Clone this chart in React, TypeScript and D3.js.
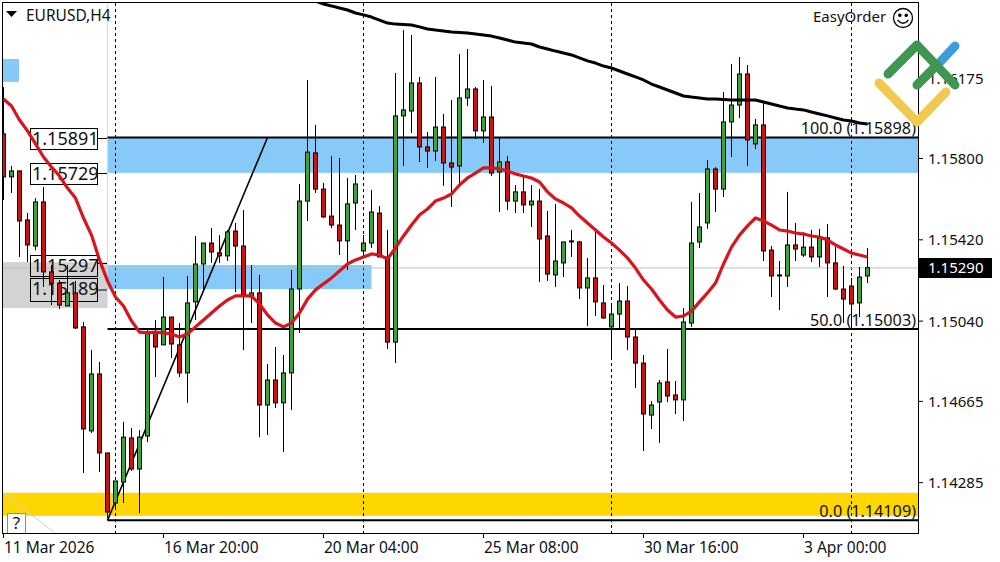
import React from "react";
import * as d3 from "d3";

// All prices in points (1e-5): 115915 = 1.15915
const opens = [115915,115714,115742,115513,115391,115597,115270,115218,115111,115172,115013,114527,114793,114424,114190,114288,114494,114349,114503,114989,114929,115059,114929,114798,115130,115307,115405,115359,115345,115461,115391,115153,115172,114648,114765,114658,114798,115190,115601,115826,115657,115531,115489,115415,115592,115368,115405,115545,115340,114942,115999,116022,116153,115854,115835,115947,115779,115765,116083,116125,115929,115994,115737,115784,115601,115644,115583,115601,115438,115256,115312,115415,115410,115195,115242,115125,115013,115073,115134,114966,114844,114601,114662,114756,114695,114672,115031,115410,115499,115751,115657,115971,116050,116195,115868,115957,115372,115256,115251,115396,115349,115386,115340,115429,115312,115190,115204,115125,115251];
const highs = [116134,115765,115742,115545,115615,115667,115302,115232,115302,115228,115036,114905,114849,114424,114293,114569,114541,114531,114999,115045,115246,115059,115031,115251,115438,115405,115475,115442,115466,115499,115559,115302,115256,114840,114919,114882,115279,115681,116167,115957,115686,115812,115803,115709,115723,115442,115653,115578,115466,116200,116400,116377,116181,115924,116181,116008,116073,116288,116312,116134,116167,116139,115900,115812,115676,115723,115676,115658,115555,115588,115410,115466,115415,115335,115466,115209,115125,115218,115204,115003,114882,114667,114765,114910,114760,115101,115597,115639,115793,115760,116111,116242,116274,116237,115985,116059,115391,115321,115644,115499,115457,115466,115471,115494,115386,115298,115242,115293,115382];
const lows = [115606,115639,115340,115316,115372,115200,115115,115097,115111,115003,114330,114517,114335,114120,114167,114190,114340,114143,114475,114779,114929,114868,114779,114658,115045,115186,115312,115312,115321,115176,114905,115031,114498,114508,114634,114428,114625,114985,115508,115639,115522,115475,115349,115279,115466,115335,115382,115340,114910,114844,115765,115919,115784,115756,115788,115672,115573,115686,116045,115891,115872,115718,115550,115559,115545,115545,115480,115223,115228,115200,115246,115340,115143,115017,115064,115050,114868,115008,114905,114727,114433,114536,114471,114662,114606,114573,115013,115382,115471,115550,115620,115807,115989,115765,115844,115321,115153,115092,115200,115321,115340,115316,115293,115153,115186,115031,115013,115059,115218];
const closes = [115714,115742,115508,115396,115597,115270,115218,115115,115172,115008,114536,114793,114424,114148,114293,114498,114349,114498,114989,114919,115059,114933,114798,115125,115307,115405,115363,115345,115457,115391,115162,115172,114648,114765,114658,114798,115190,115601,115830,115657,115527,115489,115415,115588,115681,115405,115550,115340,114942,115999,116027,116153,115854,115835,115947,115779,115760,116083,116125,115929,115994,115732,115784,115601,115644,115583,115601,115424,115260,115321,115410,115410,115195,115242,115130,115055,115073,115134,114966,114844,114606,114648,114751,114690,114672,115036,115405,115480,115751,115657,115971,116050,116195,115887,115957,115368,115251,115251,115396,115377,115386,115340,115429,115312,115190,115143,115120,115246,115290];
const redMA = [116078,116045,115980,115929,115868,115807,115760,115718,115662,115615,115522,115442,115326,115228,115153,115111,115041,114989,114985,114989,114985,114980,114966,114980,115013,115045,115078,115111,115139,115158,115158,115158,115120,115069,115031,115013,115031,115078,115143,115186,115214,115242,115274,115307,115326,115340,115354,115349,115330,115382,115438,115489,115536,115564,115601,115615,115634,115676,115709,115732,115756,115756,115751,115742,115728,115718,115709,115690,115644,115611,115592,115569,115531,115499,115466,115433,115405,115372,115335,115288,115232,115190,115139,115092,115059,115064,115087,115130,115172,115218,115307,115386,115442,115485,115522,115508,115489,115466,115461,115452,115447,115438,115433,115419,115396,115377,115358,115349,115340];
const blackMAStart = 39;
const blackMA = [116536,116522,116513,116503,116494,116480,116471,116461,116447,116433,116428,116426,116424,116415,116405,116400,116396,116391,116389,116386,116382,116377,116372,116363,116354,116344,116340,116335,116321,116312,116302,116293,116284,116270,116256,116246,116232,116223,116209,116195,116181,116167,116148,116134,116120,116106,116092,116087,116083,116078,116078,116076,116073,116073,116073,116073,116064,116055,116045,116036,116031,116027,116017,116008,115999,115989,115980,115975,115966,115961];

const priceTicks = [116175,115800,115420,115040,114665,114285];
const timeTickIdx = [0,20,40,60,80,100];
const timeTickLabels = ["11 Mar 2026","16 Mar 20:00","20 Mar 04:00","25 Mar 08:00","30 Mar 16:00","3 Apr 00:00"];
const periodSeps = [14,45,76,106];
const fibPrices = [115898,115003,114109];
const fibNames = ["100.0","50.0","0.0"];
const zoneLabels = [115891,115729,115297,115189];
const lastPrice = 115290;

const W = 1000, H = 562;
const plot = { l: 3, r: 918, t: 3, b: 533 };
const FONT = "'Noto Sans', Tahoma, sans-serif";
const x = d3.scaleLinear().domain([0, 108]).range([3.5, 867.5]);
const y = d3.scaleLinear().domain([114285, 115800]).range([482.7, 158.5]);
const fmt = (p: number) => (p / 1e5).toFixed(5);
const GREEN = "#3aa53c", RED = "#cc1418";
const INK = "#111";

const App = () => {
  const redPath = d3.line<number>().x((_, i) => x(i)).y(d => y(d)).curve(d3.curveLinear)(redMA)!;
  const blackPath = d3.line<number>().x((_, i) => x(i + blackMAStart)).y(d => y(d))(blackMA)!;
  const fibStart = x(13);
  return (
    <svg width={W} height={H} viewBox={`0 0 ${W} ${H}`} style={{ position: "absolute", left: 0, top: 0, background: "#fff" }} fontFamily={FONT}>
      <defs>
        <clipPath id="plot"><rect x={plot.l} y={plot.t} width={plot.r - plot.l} height={plot.b - plot.t} /></clipPath>
      </defs>
      <g clipPath="url(#plot)">
        {/* zones */}
        <rect x={plot.l} y={y(116265)} width={16} height={y(116158) - y(116265)} fill="#87c9f9" />
        <rect x={plot.l} y={y(115316)} width={fibStart - plot.l} height={y(115101) - y(115316)} fill="#d3d3d3" />
        <rect x={fibStart} y={y(115898)} width={plot.r - fibStart} height={y(115733) - y(115898)} fill="#87c9f9" />
        <rect x={fibStart} y={y(115302)} width={x(46) - fibStart} height={y(115190) - y(115302)} fill="#87c9f9" />
        <rect x={plot.l} y={y(114238)} width={plot.r - plot.l} height={y(114130) - y(114238)} fill="#ffd700" />
        <line x1={107.5} x2={107.5} y1={plot.t} y2={262} stroke="#dcdcdc" />
        <line x1={plot.l} y1={493} x2={55} y2={533} stroke="#d0d0d0" />
        {/* period separators */}
        {periodSeps.map(i => (
          <line key={i} x1={x(i)} x2={x(i)} y1={plot.t} y2={plot.b} stroke="#000" strokeDasharray="3 3" />
        ))}
        {/* bid line */}
        <line x1={plot.l} x2={plot.r} y1={y(lastPrice) + 0.3} y2={y(lastPrice) + 0.3} stroke="#c0c0c0" />
        {/* zone price labels */}
        {zoneLabels.map((p, i) => {
          const top = [128, 163, 255, 278][i], h = [21, 21, 21, 23][i], ly = [138.5, 173.5, 263.5, 290][i];
          return (
            <g key={p}>
              <line x1={97} x2={107} y1={ly} y2={ly} stroke="#000" />
              <rect x={30.5} y={top + 0.5} width={67} height={h} fill="none" stroke="#000" />
              <text x={32} y={top + 17} fontSize={18} fill={INK}>{fmt(p)}</text>
            </g>
          );
        })}
        {/* fibo */}
        {fibPrices.map(p => (
          <line key={p} x1={fibStart} x2={plot.r} y1={y(p)} y2={y(p)} stroke="#000" strokeWidth={2} />
        ))}
        <line x1={fibStart} y1={y(fibPrices[2])} x2={x(33)} y2={y(fibPrices[0])} stroke="#000" strokeWidth={1.6} />
        {/* candles */}
        {opens.map((o, i) => {
          const c = closes[i], top = y(Math.max(o, c)), bot = y(Math.min(o, c));
          const cx = x(i);
          return (
            <g key={i}>
              <line x1={cx} x2={cx} y1={y(highs[i])} y2={y(lows[i])} stroke="#000" />
              <rect x={cx - 2} y={top} width={4} height={Math.max(bot - top, 1)} fill={c >= o ? GREEN : RED} stroke="#000" strokeWidth={1} />
            </g>
          );
        })}
        {/* moving averages */}
        <path d={blackPath} fill="none" stroke="#000" strokeWidth={3} strokeLinejoin="round" />
        <path d={redPath} fill="none" stroke="#d8141c" strokeWidth={3.2} strokeLinejoin="round" />
        {/* fibo labels */}
        {fibPrices.map((p, i) => (
          <text key={p} x={916} y={y(p) - 3.5} textAnchor="end" fontSize={16.2} fill={INK}>{`${fibNames[i]} (${fmt(p)})`}</text>
        ))}
        {/* header */}
        <path d="M6,11 L17,11 L11.5,17 Z" fill="#000" />
        <text x={26} y={21} fontSize={15.5} fill={INK}>EURUSD,H4</text>
        <text x={813} y={22} fontSize={15} fill={INK}>EasyOrder</text>
        <g transform="translate(903,18)" fill="none" stroke="#000" strokeWidth={1.3}>
          <circle r={9.5} />
          <circle cx={-3.2} cy={-2.8} r={1.1} fill="#000" />
          <circle cx={3.2} cy={-2.8} r={1.1} fill="#000" />
          <path d="M-5.5,2 Q0,8.5 5.5,2" />
        </g>
        {/* help box */}
        <rect x={7.5} y={513.5} width={18} height={20} fill="#fff" stroke="#8c8c8c" />
        <text x={16.5} y={529} textAnchor="middle" fontSize={17} fill={INK}>?</text>
      </g>
      {/* frame */}
      <rect x={2.5} y={2.5} width={916} height={531} fill="none" stroke="#000" />
      {/* price axis */}
      {priceTicks.map(p => (
        <g key={p}>
          <line x1={918} x2={923} y1={y(p)} y2={y(p)} stroke="#000" />
          <text x={928} y={y(p) + 5.5} fontSize={15} fill={INK}>{fmt(p)}</text>
        </g>
      ))}
      <rect x={919} y={258} width={73} height={20} fill="#000" />
      <text x={928} y={y(lastPrice) + 5} fontSize={15} fill="#fff">{fmt(lastPrice)}</text>
      {/* time axis */}
      {timeTickIdx.map((i, k) => (
        <g key={i}>
          <line x1={x(i)} x2={x(i)} y1={533} y2={538} stroke="#000" />
          <text x={x(i) + 0.5} y={553} fontSize={15.5} fill={INK}>{timeTickLabels[k]}</text>
        </g>
      ))}
      {/* logo */}
      <g fill="none" strokeWidth={9} strokeLinecap="round" strokeLinejoin="round">
        <path d="M940,62 L955,46" stroke="#3b9ddd" />
        <path d="M879,83 L917,122 L946,92" stroke="#f2c94f" />
        <path d="M888,74 L917,45 L955,85" stroke="#3f9650" />
        <path d="M917,85 L937,65" stroke="#3f9650" />
      </g>
    </svg>
  );
};

export default App;
